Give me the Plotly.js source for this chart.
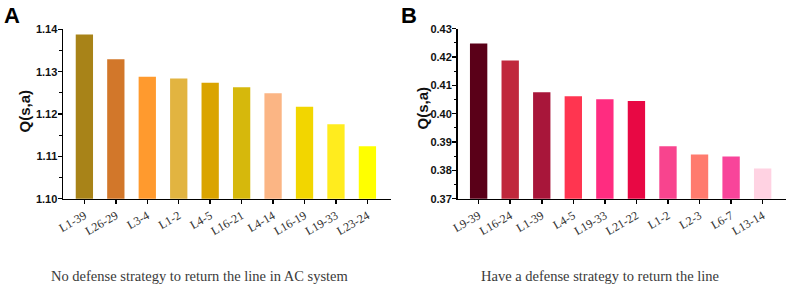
<!DOCTYPE html>
<html>
<head>
<meta charset="utf-8">
<script src="https://cdn.plot.ly/plotly-3.0.1.min.js"></script>
<style>html,body{margin:0;padding:0;background:#fff;}#chart{width:789px;height:286px;}</style>
</head>
<body>
<div id="chart"></div>
<script>
const categoriesA = ["L1-39","L26-29","L3-4","L1-2","L4-5","L16-21","L4-14","L16-19","L19-33","L23-24"];
const valuesA = [1.1388, 1.1329, 1.1288, 1.1284, 1.1274, 1.1263, 1.1249, 1.1217, 1.1176, 1.1124];
const colorsA = ["#A88318","#D2772A","#FF9A2E","#E2B440","#DAA400","#D6B80C","#FBB584","#F2D600","#FFEC1E","#FFFF00"];

const categoriesB = ["L9-39","L16-24","L1-39","L4-5","L19-33","L21-22","L1-2","L2-3","L6-7","L13-14"];
const valuesB = [0.4248, 0.4188, 0.4076, 0.4062, 0.4051, 0.4045, 0.3885, 0.3856, 0.3849, 0.3807];
const colorsB = ["#5A0018","#C0283C","#A8163A","#FF3550","#FF2C80","#E80844","#F8448E","#FF7B6E","#F8449A","#FFD2E2"];

const yRangeA = [1.10, 1.14];
const yRangeB = [0.37, 0.43];
const yStep = 0.01;

const yTitle = "Q(s,a)";
const captionA = "No defense strategy to return the line in AC system";
const captionB = "Have a defense strategy to return the line";

const traces = [
  {type:"bar", x:categoriesA, y:valuesA, marker:{color:colorsA}, width:0.55, xaxis:"x", yaxis:"y", hoverinfo:"x+y"},
  {type:"bar", x:categoriesB, y:valuesB, marker:{color:colorsB}, width:0.55, xaxis:"x2", yaxis:"y2", hoverinfo:"x+y"}
];

const xcommon = {
  type:"category", showline:true, linecolor:"#000", linewidth:1.5, ticks:"outside", ticklen:4, tickwidth:1.5, tickcolor:"#000",
  tickangle:-30, tickfont:{family:"Liberation Serif, Times New Roman, serif", size:12, color:"#333"},
  showgrid:false, zeroline:false, fixedrange:true
};
const ycommon = {
  showline:true, linecolor:"#000", linewidth:1.5, ticks:"outside", ticklen:4, tickwidth:1.5, tickcolor:"#000",
  tickmode:"linear", dtick:yStep, tickformat:".2f", ticklabelstandoff:-2,
  tickfont:{family:"Liberation Sans, Arial, sans-serif", size:11, color:"#111", weight:"bold"},
  showgrid:false, zeroline:false, fixedrange:true
};
const minorTicks = {ticks:"outside", ticklen:2.5, tickwidth:1, tickcolor:"#000", dtick:yStep/2};
const titleFont = {family:"Liberation Sans, Arial, sans-serif", size:15, color:"#111"};

const layout = {
  width:789, height:286, margin:{l:0,r:0,t:0,b:0}, paper_bgcolor:"#fff", plot_bgcolor:"#fff",
  showlegend:false,
  xaxis: Object.assign({}, xcommon, {domain:[63/789, 391/789], range:[-0.68, 9.75], anchor:"y"}),
  yaxis: Object.assign({}, ycommon, {domain:[1-198.7/286, 1-29.3/286], range:yRangeA, tick0:yRangeA[0], anchor:"x", minor:Object.assign({}, minorTicks, {tick0:yRangeA[0]})}),
  xaxis2: Object.assign({}, xcommon, {domain:[457.5/789, 786/789], range:[-0.67, 9.74], anchor:"y2"}),
  yaxis2: Object.assign({}, ycommon, {domain:[1-198.7/286, 1-28.7/286], range:yRangeB, tick0:yRangeB[0], anchor:"x2", minor:Object.assign({}, minorTicks, {tick0:yRangeB[0]})}),
  annotations:[
    {text:"<b>"+yTitle+"</b>", xref:"paper", yref:"paper", x:23.5/789, y:1-111/286, xanchor:"center", yanchor:"middle", textangle:-90, showarrow:false, font:titleFont},
    {text:"<b>"+yTitle+"</b>", xref:"paper", yref:"paper", x:422/789, y:1-108.5/286, xanchor:"center", yanchor:"middle", textangle:-90, showarrow:false, font:titleFont},
    {text:"<b>A</b>", xref:"paper", yref:"paper", x:2/789, y:1-1/286, xanchor:"left", yanchor:"top", showarrow:false, font:{family:"Liberation Sans, Arial, sans-serif", size:22, color:"#000"}},
    {text:"<b>B</b>", xref:"paper", yref:"paper", x:399/789, y:1-1/286, xanchor:"left", yanchor:"top", showarrow:false, font:{family:"Liberation Sans, Arial, sans-serif", size:22, color:"#000"}},
    {text:captionA, xref:"paper", yref:"paper", x:200/789, y:1-276/286, xanchor:"center", yanchor:"middle", showarrow:false, font:{family:"Liberation Serif, Times New Roman, serif", size:14.5, color:"#3a3a3a"}},
    {text:captionB, xref:"paper", yref:"paper", x:600/789, y:1-276/286, xanchor:"center", yanchor:"middle", showarrow:false, font:{family:"Liberation Serif, Times New Roman, serif", size:14.5, color:"#3a3a3a"}}
  ]
};

Plotly.newPlot("chart", traces, layout, {displayModeBar:false, staticPlot:true});
</script>
</body>
</html>
